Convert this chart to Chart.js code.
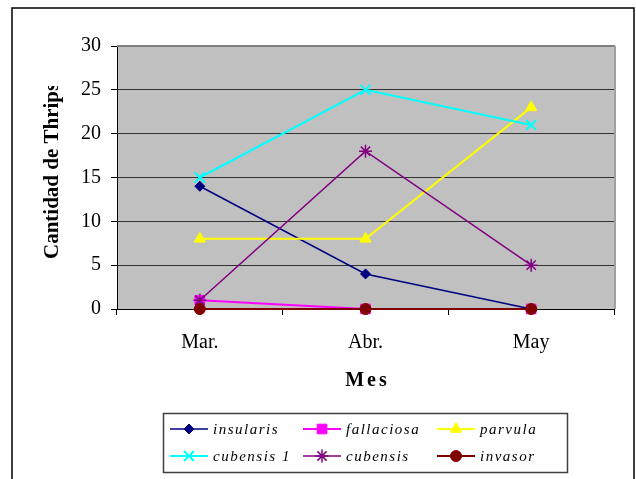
<!DOCTYPE html>
<html>
<head>
<meta charset="utf-8">
<script src="https://cdn.jsdelivr.net/npm/chart.js@4/dist/chart.umd.min.js"></script>
<style>
  html, body { margin: 0; padding: 0; background: #fff; }
  #wrap { width: 636px; height: 479px; }
</style>
</head>
<body>
<div id="wrap"><canvas id="c" width="636" height="479"></canvas></div>
<script>
// Monthly thrips counts per species
const months = ['Mar.', 'Abr.', 'May'];
const seriesNames = ['insularis', 'fallaciosa', 'parvula', 'cubensis 1', 'cubensis', 'invasor'];
const insularis = [14, 4, 0];
const fallaciosa = [1, 0, 0];
const parvula = [8, 8, 23];
const cubensis1 = [15, 25, 21];
const cubensis = [1, 18, 5];
const invasor = [0, 0, 0];
const yTicks = [0, 5, 10, 15, 20, 25, 30];

const SERIF = '"Liberation Serif", "Times New Roman", serif';

const styles = [
  { color: '#000080', point: 'rectRot', r: 5, lw: 1.5, bw: 1 },
  { color: '#FF00FF', point: 'rect', r: 6.8, lw: 2, bw: 1 },
  { color: '#FFFF00', point: 'triangle', r: 6.5, lw: 2, bw: 1 },
  { color: '#00FFFF', point: 'crossRot', r: 7, lw: 2, bw: 2 },
  { color: '#800080', point: 'star', r: 6.5, lw: 1.5, bw: 1.5 },
  { color: '#800000', point: 'circle', r: 5.5, lw: 2, bw: 1 }
];
const values = [insularis, fallaciosa, parvula, cubensis1, cubensis, invasor];

const datasets = seriesNames.map((name, i) => ({
  label: name,
  data: values[i],
  borderColor: styles[i].color,
  backgroundColor: styles[i].color,
  borderWidth: styles[i].lw,
  pointStyle: styles[i].point,
  pointRadius: styles[i].r,
  pointHoverRadius: styles[i].r,
  pointBorderWidth: styles[i].bw,
  pointBackgroundColor: styles[i].color,
  pointBorderColor: styles[i].color,
  tension: 0,
  fill: false,
  clip: false,
  order: seriesNames.length - i
}));

function marker(ctx, style, radius, x, y, color, bw) {
  ctx.save();
  ctx.fillStyle = color;
  ctx.strokeStyle = color;
  ctx.lineWidth = bw;
  Chart.helpers.drawPoint(ctx, { pointStyle: style, radius: radius, rotation: 0, borderWidth: bw }, x, y);
  ctx.restore();
}

const framePlugin = {
  id: 'frame',
  beforeDraw(chart) {
    const { ctx, chartArea: a } = chart;
    ctx.save();
    ctx.fillStyle = '#ffffff';
    ctx.fillRect(0, 0, chart.width, chart.height);
    ctx.strokeStyle = '#000000';
    ctx.lineWidth = 1.5;
    ctx.strokeRect(12, 8, 622, 490);
    ctx.fillStyle = '#C0C0C0';
    ctx.fillRect(a.left, a.top, a.right - a.left, a.bottom - a.top);
    ctx.restore();
  },
  beforeDatasetsDraw(chart) {
    const { ctx, chartArea: a } = chart;
    ctx.save();
    ctx.strokeStyle = '#808080';
    ctx.lineWidth = 2;
    ctx.beginPath();
    ctx.moveTo(a.left, a.top);
    ctx.lineTo(a.right + 1, a.top);
    ctx.stroke();
    ctx.strokeStyle = '#A0A0A0';
    ctx.beginPath();
    ctx.moveTo(a.right + 1, a.top);
    ctx.lineTo(a.right + 1, a.bottom);
    ctx.stroke();
    ctx.restore();
  },
  afterDraw(chart) {
    const { ctx } = chart;
    ctx.save();
    // y axis title, cut off at its top like the frame it sits in
    ctx.beginPath();
    ctx.rect(20, 86, 60, 200);
    ctx.clip();
    ctx.translate(57.5, 259);
    ctx.rotate(-Math.PI / 2);
    ctx.fillStyle = '#000';
    ctx.font = 'bold 21px ' + SERIF;
    ctx.textAlign = 'left';
    ctx.textBaseline = 'alphabetic';
    ctx.fillText('Cantidad de Thrips', 0, 0);
    ctx.restore();

    // x axis title
    ctx.save();
    ctx.fillStyle = '#000';
    ctx.font = 'bold 20px ' + SERIF;
    ctx.letterSpacing = '3px';
    ctx.textAlign = 'center';
    ctx.textBaseline = 'alphabetic';
    ctx.fillText('Mes', 367.5, 386);
    ctx.restore();

    // legend
    ctx.save();
    ctx.strokeStyle = '#404040';
    ctx.lineWidth = 1.5;
    ctx.strokeRect(163.5, 413.5, 404, 59);
    const cols = [170, 303, 437];
    const rows = [429, 456];
    ctx.font = 'italic 15px ' + SERIF;
    ctx.letterSpacing = '1.5px';
    ctx.textBaseline = 'middle';
    ctx.textAlign = 'left';
    seriesNames.forEach((name, i) => {
      const x0 = cols[i % 3];
      const y0 = rows[Math.floor(i / 3)];
      const s = styles[i];
      ctx.strokeStyle = s.color;
      ctx.lineWidth = s.lw;
      ctx.beginPath();
      ctx.moveTo(x0, y0);
      ctx.lineTo(x0 + 38, y0);
      ctx.stroke();
      marker(ctx, s.point, s.r, x0 + 19, y0, s.color, s.bw);
      ctx.fillStyle = '#000';
      ctx.fillText(name, x0 + 43, y0 + 1);
    });
    ctx.restore();
  }
};

new Chart(document.getElementById('c'), {
  type: 'line',
  data: { labels: months, datasets: datasets },
  plugins: [framePlugin],
  options: {
    responsive: false,
    animation: false,
    events: [],
    layout: { padding: { left: 0, top: 46, right: 22, bottom: 0 } },
    plugins: { legend: { display: false }, tooltip: { enabled: false }, title: { display: false } },
    scales: {
      x: {
        type: 'category',
        offset: true,
        afterFit(scale) { scale.height = 170; },
        grid: { offset: true, drawOnChartArea: false, drawTicks: true, tickLength: 6, color: '#000', tickWidth: 1 },
        border: { display: true, color: '#000', width: 1 },
        ticks: { color: '#000', padding: 16, font: { family: SERIF, size: 20 }, maxRotation: 0 }
      },
      y: {
        min: 0,
        max: 30,
        afterFit(scale) { scale.width = 117; },
        afterBuildTicks(scale) { scale.ticks = yTicks.map(v => ({ value: v })); },
        grid: { color: '#333333', lineWidth: 1, drawTicks: true, tickLength: 6, tickColor: '#000' },
        border: { display: true, color: '#000', width: 1 },
        ticks: { color: '#000', padding: 10, font: { family: SERIF, size: 20 } }
      }
    }
  }
});
</script>
</body>
</html>
